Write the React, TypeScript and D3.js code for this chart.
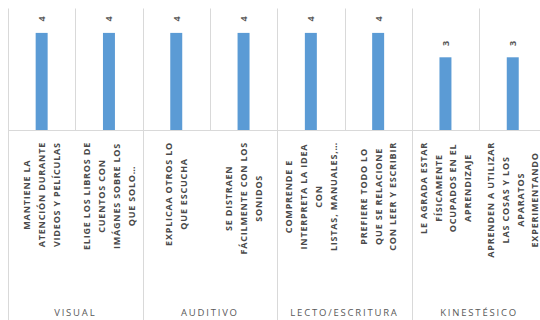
import React, { useEffect, useRef } from "react";
import * as d3 from "d3";

const categories = [
  "MANTIENE LA ATENCIÓN DURANTE VIDEOS Y PELÍCULAS",
  "ELIGE LOS LIBROS DE CUENTOS CON IMÁGNES SOBRE LOS QUE SOLO…",
  "EXPLICAA OTROS LO QUE ESCUCHA",
  "SE DISTRAEN FÁCILMENTE CON LOS SONIDOS",
  "COMPRENDE E INTERPRETA LA IDEA CON LISTAS, MANUALES,…",
  "PREFIERE TODO LO QUE SE RELACIONE CON LEER Y ESCRIBIR",
  "LE AGRADA ESTAR FÍSICAMENTE OCUPADOS EN EL APRENDIZAJE",
  "APRENDEN A UTILIZAR LAS COSAS Y LOS APARATOS EXPERIMENTANDO",
];
const categoryLines = [
  ["MANTIENE LA", "ATENCIÓN DURANTE", "VIDEOS Y PELÍCULAS"],
  ["ELIGE LOS LIBROS DE", "CUENTOS CON", "IMÁGNES SOBRE LOS", "QUE SOLO…"],
  ["EXPLICAA OTROS  LO", "QUE ESCUCHA"],
  ["SE DISTRAEN", "FÁCILMENTE CON LOS", "SONIDOS"],
  ["COMPRENDE E", "INTERPRETA LA IDEA", "CON", "LISTAS, MANUALES,…"],
  ["PREFIERE TODO LO", "QUE SE RELACIONE", "CON LEER Y ESCRIBIR"],
  ["LE AGRADA ESTAR", "FÍSICAMENTE", "OCUPADOS EN EL", "APRENDIZAJE"],
  ["APRENDEN A UTILIZAR", "LAS COSAS Y LOS", "APARATOS", "EXPERIMENTANDO"],
];
const groups = ["VISUAL", "AUDITIVO", "LECTO/ESCRITURA", "KINESTÉSICO"];
const groupSizes = [2, 2, 2, 2];
const values = [4, 4, 4, 4, 4, 4, 3, 3];
const yDomain = [0, 5];

export default function App() {
  const ref = useRef<SVGSVGElement>(null);
  useEffect(() => {
    const svg = d3.select(ref.current);
    svg.selectAll("*").remove();
    const left = 8;
    const step = 67.3;
    const baseY = 130.5;
    const x = d3
      .scaleBand<number>()
      .domain(d3.range(categories.length))
      .range([left, left + step * categories.length])
      .padding(0);
    const y = d3.scaleLinear().domain(yDomain).range([baseY, 8.5]);
    const font = "'Open Sans', 'DejaVu Sans', sans-serif";

    const bounds = d3.range(categories.length + 1).map((i) => left + i * x.step());
    svg
      .append("g")
      .selectAll("line")
      .data(bounds)
      .join("line")
      .attr("x1", (d) => Math.round(d) + 0.5)
      .attr("x2", (d) => Math.round(d) + 0.5)
      .attr("y1", y(yDomain[1]))
      .attr("y2", baseY)
      .attr("stroke", "#d9d9d9")
      .attr("stroke-width", 1);

    let acc = 0;
    const groupBounds = [left];
    groupSizes.forEach((s) => {
      acc += s;
      groupBounds.push(left + acc * x.step());
    });
    svg
      .append("g")
      .selectAll("line")
      .data(groupBounds)
      .join("line")
      .attr("x1", (d) => Math.round(d) + 0.5)
      .attr("x2", (d) => Math.round(d) + 0.5)
      .attr("y1", baseY)
      .attr("y2", 320)
      .attr("stroke", "#d9d9d9")
      .attr("stroke-width", 1);

    const bw = x.bandwidth() * 0.178;
    svg
      .append("g")
      .selectAll("rect")
      .data(values)
      .join("rect")
      .attr("x", (_, i) => x(i)! + x.bandwidth() / 2 - bw / 2)
      .attr("y", (d) => y(d))
      .attr("width", bw)
      .attr("height", (d) => baseY - y(d))
      .attr("fill", "#5b9bd5");

    svg
      .append("line")
      .attr("x1", left)
      .attr("x2", 540)
      .attr("y1", baseY)
      .attr("y2", baseY)
      .attr("stroke", "#d9d9d9");

    svg
      .append("g")
      .selectAll("text")
      .data(values)
      .join("text")
      .attr(
        "transform",
        (d, i) => `translate(${x(i)! + x.bandwidth() / 2},${y(d) - 14}) rotate(-90)`
      )
      .attr("text-anchor", "middle")
      .attr("dominant-baseline", "central")
      .attr("font-family", font)
      .attr("font-size", 9)
      .attr("font-weight", 700)
      .attr("fill", "#595959")
      .text((d) => String(d));

    const lineGap = 14.8;
    const topY = 142;
    categoryLines.forEach((lines, i) => {
      const cx = x(i)! + x.bandwidth() / 2;
      const g = svg.append("g");
      const texts = lines.map((ln) =>
        g
          .append("text")
          .attr("font-family", font)
          .attr("font-size", 9)
          .attr("font-weight", 700)
          .attr("letter-spacing", 0.8)
          .attr("fill", "#4a4a4a")
          .attr("text-anchor", "middle")
          .attr("dominant-baseline", "central")
          .text(ln)
      );
      const maxW =
        d3.max(texts, (t) => (t.node() as SVGTextElement).getComputedTextLength()) || 0;
      const cy = topY + maxW / 2;
      texts.forEach((t, j) => {
        const lx = cx + (j - (lines.length - 1) / 2) * lineGap;
        t.attr("transform", `translate(${lx},${cy}) rotate(-90)`);
      });
    });

    groups.forEach((gname, gi) => {
      const cx = (groupBounds[gi] + groupBounds[gi + 1]) / 2;
      svg
        .append("text")
        .attr("x", cx)
        .attr("y", 312)
        .attr("text-anchor", "middle")
        .attr("dominant-baseline", "central")
        .attr("font-family", font)
        .attr("font-size", 9.5)
        .attr("letter-spacing", 1.8)
        .attr("fill", "#595959")
        .text(gname);
    });
  }, []);
  return (
    <svg
      ref={ref}
      width={540}
      height={320}
      style={{ position: "absolute", left: 0, top: 0, background: "#fff" }}
    />
  );
}
